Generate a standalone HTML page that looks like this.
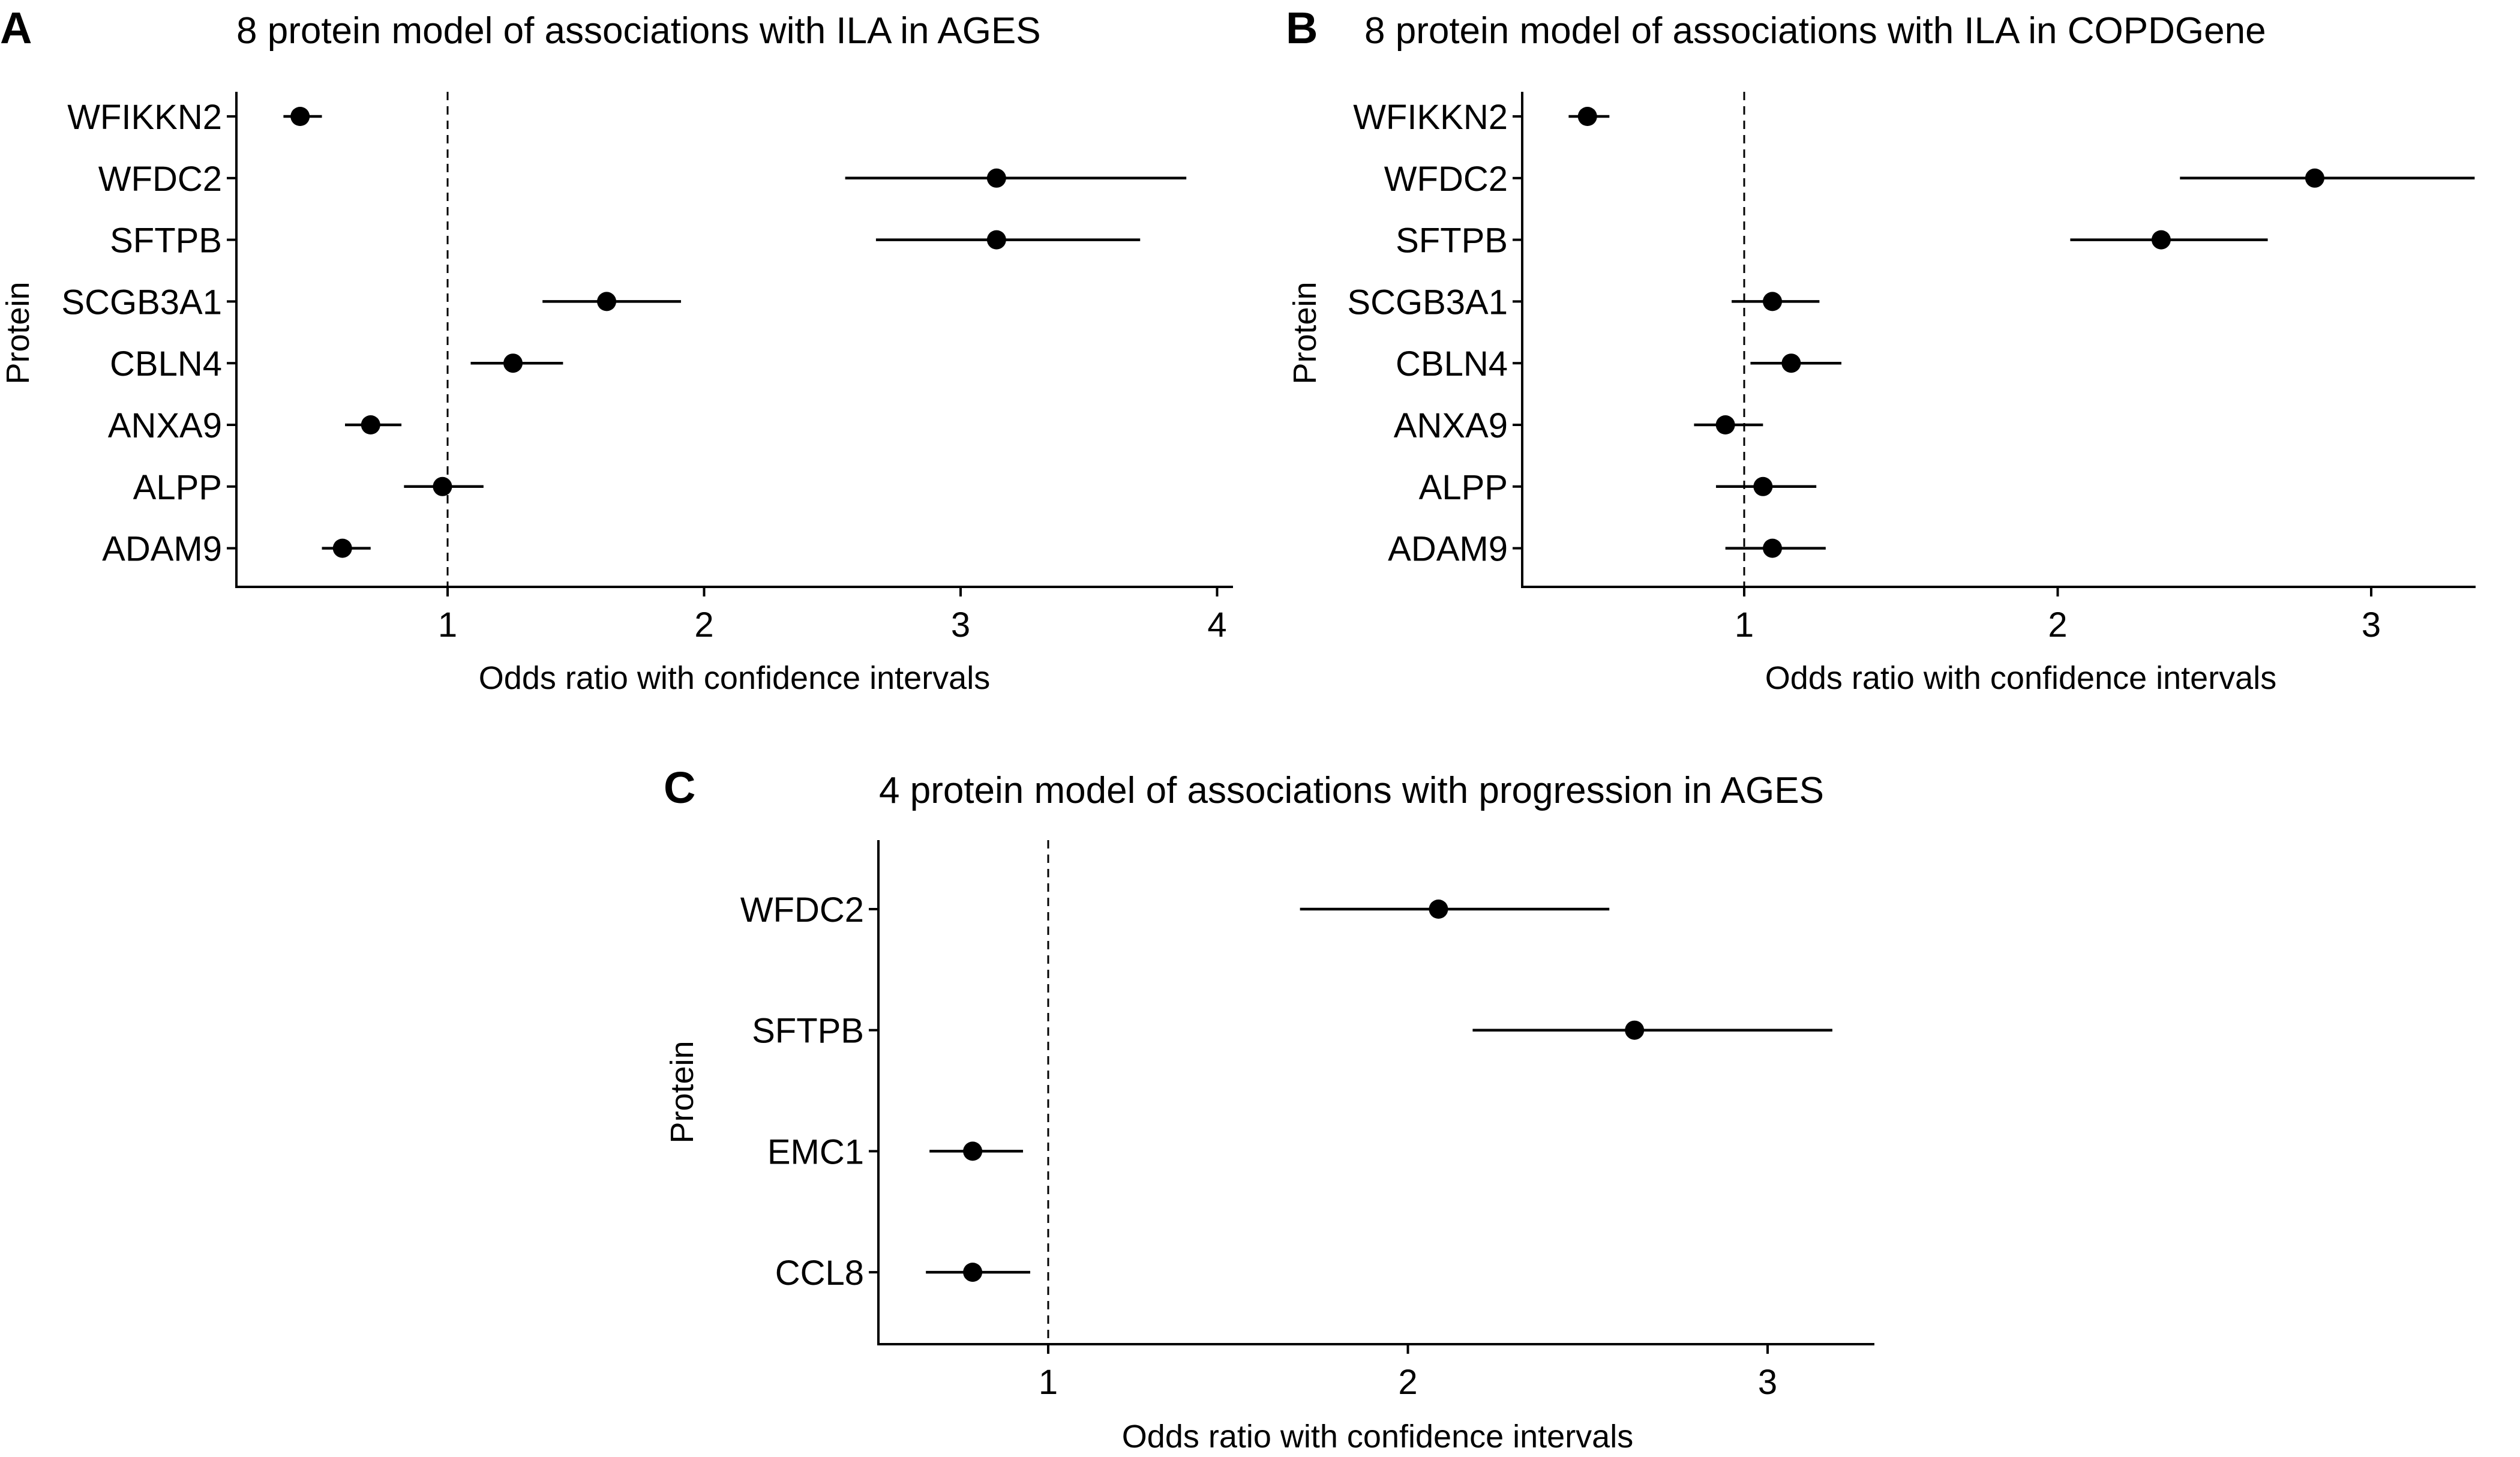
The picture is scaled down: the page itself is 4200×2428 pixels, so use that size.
<!DOCTYPE html>
<html><head><meta charset="utf-8"><style>
html,body{margin:0;padding:0;background:#fff;}
svg{display:block;font-family:"Liberation Sans",Arial,sans-serif;}
</style></head><body>
<svg id="chart" width="4200" height="2428" viewBox="0 0 4200 2428" xmlns="http://www.w3.org/2000/svg">
<rect width="4200" height="2428" fill="#fff"/>
</svg>
<script>
// Panel A data
const catsA = ["WFIKKN2","WFDC2","SFTPB","SCGB3A1","CBLN4","ANXA9","ALPP","ADAM9"];
const orA = [0.425,3.14,3.14,1.62,1.255,0.70,0.98,0.59];
const loA = [0.36,2.55,2.67,1.37,1.09,0.60,0.83,0.51];
const hiA = [0.51,3.88,3.70,1.91,1.45,0.82,1.14,0.70];
const ticksA = [1,2,3,4];
// Panel B data
const catsB = ["WFIKKN2","WFDC2","SFTPB","SCGB3A1","CBLN4","ANXA9","ALPP","ADAM9"];
const orB = [0.50,2.82,2.33,1.09,1.15,0.94,1.06,1.09];
const loB = [0.44,2.39,2.04,0.96,1.02,0.84,0.91,0.94];
const hiB = [0.57,3.33,2.67,1.24,1.31,1.06,1.23,1.26];
const ticksB = [1,2,3];
// Panel C data
const catsC = ["WFDC2","SFTPB","EMC1","CCL8"];
const orC = [2.085,2.63,0.79,0.79];
const loC = [1.70,2.18,0.67,0.66];
const hiC = [2.56,3.18,0.93,0.95];
const ticksC = [1,2,3];

const NS="http://www.w3.org/2000/svg";
const svg=document.getElementById('chart');
function mk(tag,attrs,parent,text){const e=document.createElementNS(NS,tag);for(const k in attrs)e.setAttribute(k,attrs[k]);if(text!==undefined)e.textContent=text;(parent||svg).appendChild(e);return e;}

function panel(p){
  const g=mk('g',{});
  
  
  const xs=v=>p.x1+(v-1)*p.unit;
  const ys=i=>p.row0+i*p.step;
  const L=mk('text',{x:p.letX,y:p.letY,'font-size':74,'font-weight':'bold'},g,p.id);
  
  
  const T=mk('text',{x:p.titleX,y:p.titleY,'font-size':62},g,p.title);
  
  
  const ya=mk('line',{x1:p.ax0,y1:p.top,x2:p.ax0,y2:p.bot,stroke:'#000','stroke-width':4},g);
  
  
  const xa=mk('line',{x1:p.ax0-2,y1:p.bot,x2:p.ax1,y2:p.bot,stroke:'#000','stroke-width':4},g);
  
  
  const rl=mk('line',{x1:xs(1),y1:p.top,x2:xs(1),y2:p.bot,stroke:'#000','stroke-width':3,'stroke-dasharray':'14,10'},g);
  
  
  p.ticks.forEach(t=>{
    const tk=mk('line',{x1:xs(t),y1:p.bot,x2:xs(t),y2:p.bot+16,stroke:'#000','stroke-width':4},g);
    
    
    const tl=mk('text',{x:xs(t),y:p.bot+83,'font-size':58,'text-anchor':'middle'},g,String(t));
    
    
  });
  p.cats.forEach((c,i)=>{
    const y=ys(i);
    const tk=mk('line',{x1:p.ax0-16,y1:y,x2:p.ax0,y2:y,stroke:'#000','stroke-width':4},g);
    
    
    const lb=mk('text',{x:p.ax0-24,y:y+21,'font-size':58,'text-anchor':'end'},g,c);
    
    
    const ci=mk('line',{x1:xs(p.lo[i]),y1:y,x2:xs(p.hi[i]),y2:y,stroke:'#000','stroke-width':4.5},g);
    
    
    const pt=mk('circle',{cx:xs(p.or[i]),cy:y,r:16,fill:'#000'},g);
    
    
  });
  const xl=mk('text',{x:p.xlX,y:p.xlY,'font-size':54,'text-anchor':'middle'},g,'Odds ratio with confidence intervals');
  
  
  const yl=mk('text',{x:0,y:0,'font-size':54,'text-anchor':'middle',transform:`translate(${p.ylX},${p.ylY}) rotate(-90)`},g,'Protein');
  
  
}

panel({id:'A',title:'8 protein model of associations with ILA in AGES',cats:catsA,or:orA,lo:loA,hi:hiA,ticks:ticksA,
  x1:746,unit:427.5,ax0:394,ax1:2055,top:153,bot:978,row0:194,step:102.8,
  letX:0,letY:72,titleX:394,titleY:72,xlX:1224,xlY:1148,ylX:48,ylY:555});
panel({id:'B',title:'8 protein model of associations with ILA in COPDGene',cats:catsB,or:orB,lo:loB,hi:hiB,ticks:ticksB,
  x1:2907,unit:522.5,ax0:2537,ax1:4126,top:153,bot:978,row0:194,step:102.8,
  letX:2143,letY:72,titleX:2274,titleY:72,xlX:3368,xlY:1148,ylX:2193,ylY:555});
panel({id:'C',title:'4 protein model of associations with progression in AGES',cats:catsC,or:orC,lo:loC,hi:hiC,ticks:ticksC,
  x1:1747,unit:599.5,ax0:1464,ax1:3124,top:1400,bot:2240,row0:1515,step:201.7,
  letX:1106,letY:1338,titleX:1465,titleY:1338,xlX:2296,xlY:2412,ylX:1155,ylY:1820});
</script>
</body></html>
